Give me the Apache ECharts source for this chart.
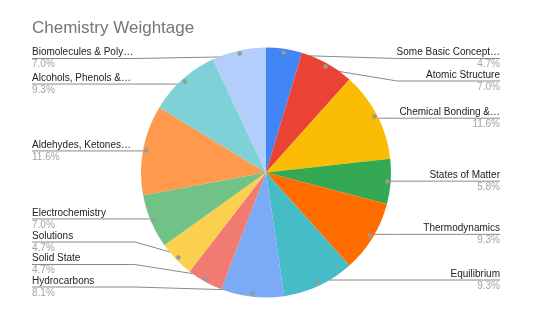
<!DOCTYPE html>
<html>
<head>
<meta charset="utf-8">
<script src="https://cdn.jsdelivr.net/npm/echarts@6/dist/echarts.min.js"></script>
<style>html,body{margin:0;padding:0;background:#fff;}#c{width:537px;height:321px;}</style>
</head>
<body>
<div id="c"></div>
<script>
const titleText = 'Chemistry Weightage';
const categories = [
  'Some Basic Concept…', 'Atomic Structure', 'Chemical Bonding &…', 'States of Matter',
  'Thermodynamics', 'Equilibrium', 'Hydrocarbons', 'Solid State', 'Solutions',
  'Electrochemistry', 'Aldehydes, Ketones…', 'Alcohols, Phenols &…', 'Biomolecules & Poly…'
];
const values = [4, 6, 10, 5, 8, 8, 7, 4, 4, 6, 10, 8, 6];
const colors = ['#4285F4', '#EA4335', '#FBBC04', '#34A853', '#FF6D01', '#46BDC6', '#7BAAF7',
  '#F07B72', '#FCD04F', '#71C287', '#FF994D', '#7ED1D7', '#B3CEFB'];

const W = 537, H = 321;
const cx = 266, cy = 172.5, R = 125;
const leftX = 32, rightX = 500, gap = 22.5, minY = 58.5, maxY = 287;

const total = values.reduce((a, b) => a + b, 0);
const pct = values.map(v => (v / total * 100).toFixed(1) + '%');

// compute label layout from data
const info = [];
let acc = 0;
values.forEach((v, i) => {
  const mid = (acc + v / 2) / total * Math.PI * 2;
  acc += v;
  const s = Math.sin(mid), c = Math.cos(mid);
  info.push({
    i, right: s >= 0,
    dot: [cx + 0.95 * R * s, cy - 0.95 * R * c],
    y: cy - 0.95 * R * c
  });
});
[true, false].forEach(side => {
  const arr = info.filter(d => d.right === side).sort((a, b) => a.y - b.y);
  for (let k = 0; k < arr.length; k++) {
    arr[k].y = Math.max(arr[k].y, minY, k ? arr[k - 1].y + gap : -1e9);
  }
  for (let k = arr.length - 1; k >= 0; k--) {
    arr[k].y = Math.min(arr[k].y, maxY, k < arr.length - 1 ? arr[k + 1].y - gap : 1e9);
  }
});

const data = categories.map((n, i) => ({ name: n, value: values[i], itemStyle: { color: colors[i] } }));

const chart = echarts.init(document.getElementById('c'), null, { renderer: 'canvas' });
chart.setOption({
  animation: false,
  title: {
    text: titleText, left: leftX, top: 20, padding: 0,
    textStyle: { fontFamily: 'Liberation Sans, Arial, sans-serif', fontSize: 17, fontWeight: 'normal', color: '#757575' }
  },
  series: [
    {
      type: 'pie', center: [cx, cy], radius: R, startAngle: 90, clockwise: true,
      avoidLabelOverlap: false, silent: true,
      data: data,
      label: {
        show: true, position: 'outer',
        formatter: p => '{n|' + p.name + '}\n{p|' + pct[p.dataIndex] + '}',
        rich: {
          n: { fontFamily: 'Liberation Sans, Arial, sans-serif', fontSize: 10, color: '#222', lineHeight: 12 },
          p: { fontFamily: 'Liberation Sans, Arial, sans-serif', fontSize: 10, color: '#a3a3a3', lineHeight: 12 }
        }
      },
      labelLine: { show: true, length: 0, length2: 0, lineStyle: { color: '#8a8a8a', width: 1 } },
      labelLayout: function (params) {
        const d = info[params.dataIndex];
        const bendX = d.right ? cx + 1.05 * R : cx - 1.05 * R;
        const endX = d.right ? rightX : leftX;
        return {
          x: endX, y: d.y, align: d.right ? 'right' : 'left', verticalAlign: 'middle',
          labelLinePoints: [d.dot, [bendX, d.y], [endX, d.y]]
        };
      }
    },
    {
      type: 'pie', center: [cx, cy], radius: [0.9 * R, R], startAngle: 90, clockwise: true,
      silent: true, avoidLabelOverlap: false,
      data: categories.map((n, i) => ({ name: n, value: values[i] })),
      itemStyle: { color: 'rgba(0,0,0,0)' },
      label: {
        show: true, position: 'inside', formatter: '●',
        fontFamily: 'DejaVu Sans', fontSize: 6, color: '#999'
      },
      labelLine: { show: false }
    }
  ]
});
</script>
</body>
</html>
